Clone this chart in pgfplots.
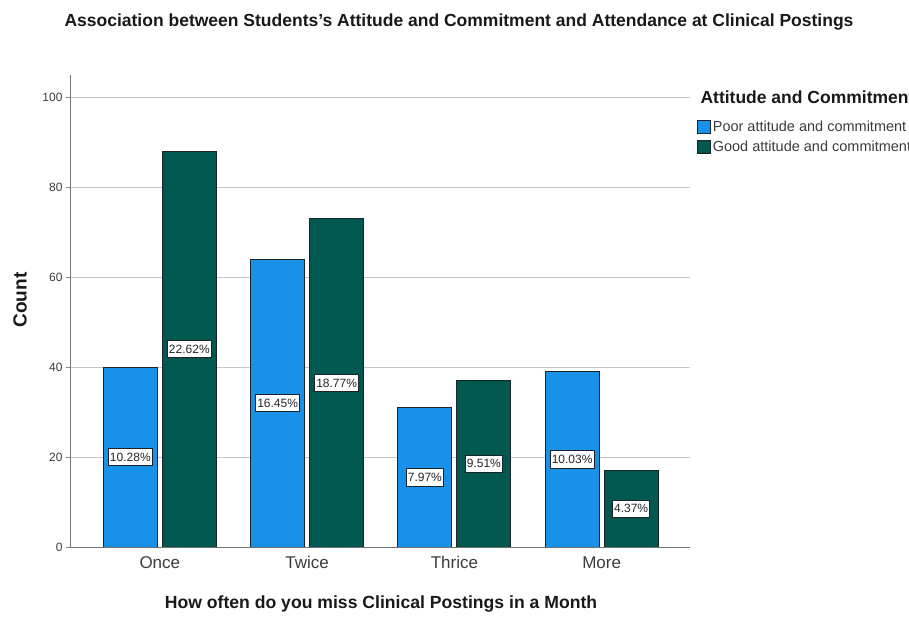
\documentclass[border=0pt]{standalone}
\usepackage{pgfplots}
\pgfplotsset{compat=1.18}
\usepackage{pgfplotstable}
\usepackage{fontspec}
\setmainfont{Liberation Sans}

\definecolor{poorblue}{RGB}{23,146,232}
\definecolor{goodteal}{RGB}{0,88,80}
\definecolor{txtgray}{RGB}{60,60,60}
\definecolor{edgedark}{RGB}{25,35,40}

% counts per category, with the share of all 389 students
\pgfplotstableread{
x y pct
0 40 10.28
1 64 16.45
2 31 7.97
3 39 10.03
}\poordata
\pgfplotstableread{
x y pct
0 88 22.62
1 73 18.77
2 37 9.51
3 17 4.37
}\gooddata

\pgfplotsset{
  pctlabels/.style={
    point meta=explicit symbolic,
    nodes near coords={\pgfplotspointmeta\%},
    visualization depends on={y \as \rawy},
    every node near coord/.append style={
      anchor=center,
      shift={(axis direction cs:0,-\rawy/2)},
      xshift=#1,
      fill=white, draw=edgedark, line width=0.8pt,
      inner xsep=1.6pt, inner ysep=4.4pt, text=black!85,
      font=\fontsize{12}{13}\selectfont},
  },
  squarelegend/.style={
    legend image code/.code={\draw[##1] (0pt,-6.5pt) rectangle (13pt,6.5pt);}
  },
}

\begin{document}
\begin{tikzpicture}
\path[use as bounding box, clip] (-70pt,-70pt) rectangle (839pt,547pt);

\begin{axis}[
  at={(0pt,0pt)}, anchor=south west,
  scale only axis, width=620pt, height=472pt,
  xmin=-0.61, xmax=3.6, ymin=0, ymax=105,
  axis x line*=bottom, axis y line*=left,
  axis line style={black!55, line width=0.8pt},
  ytick={0,20,...,100},
  xtick={0,1,2,3}, xticklabels={Once,Twice,Thrice,More},
  ymajorgrids, grid style={black!22, line width=0.6pt},
  tick align=outside, major tick length=4pt,
  xtick style={draw=none},
  ytick style={black!45, line width=0.6pt},
  /pgf/number format/assume math mode=true,
  yticklabel style={font=\fontsize{12}{14}\selectfont, text=txtgray},
  xticklabel style={font=\fontsize{17}{20}\selectfont, text=txtgray, yshift=-2pt},
  legend style={at={(axis description cs:1.011,0.907)}, anchor=north west,
    draw=none, fill=none, font=\fontsize{14.5}{16}\selectfont, text=txtgray,
    row sep=4pt, inner sep=0pt,
    /tikz/every even column/.append style={column sep=3pt}},
  legend cell align=left,
]
\addplot[ybar, bar width=54pt, bar shift=-29.5pt, fill=poorblue,
  draw=edgedark, line width=0.8pt, pctlabels=-29.5pt, squarelegend]
  table[x=x, y=y, meta=pct] {\poordata};
\addlegendentry{Poor attitude and commitment}

\addplot[ybar, bar width=54pt, bar shift=29.5pt, fill=goodteal,
  draw=edgedark, line width=0.8pt, pctlabels=29.5pt, squarelegend]
  table[x=x, y=y, meta=pct] {\gooddata};
\addlegendentry{Good attitude and commitment}
\end{axis}

\node[anchor=west, font=\bfseries\fontsize{17.5}{20}\selectfont, text=black!90]
  at (627pt,450pt) {Attitude and Commitment};
\node[font=\bfseries\fontsize{17.5}{20}\selectfont, text=black!90]
  at (389pt,525pt) {Association between Students's Attitude and Commitment and Attendance at Clinical Postings};
\node[font=\bfseries\fontsize{17.6}{20}\selectfont, text=black!90]
  at (311pt,-57pt) {How often do you miss Clinical Postings in a Month};
\node[rotate=90, font=\bfseries\fontsize{19}{22}\selectfont, text=black!90]
  at (-50pt,247pt) {Count};
\end{tikzpicture}
\end{document}
